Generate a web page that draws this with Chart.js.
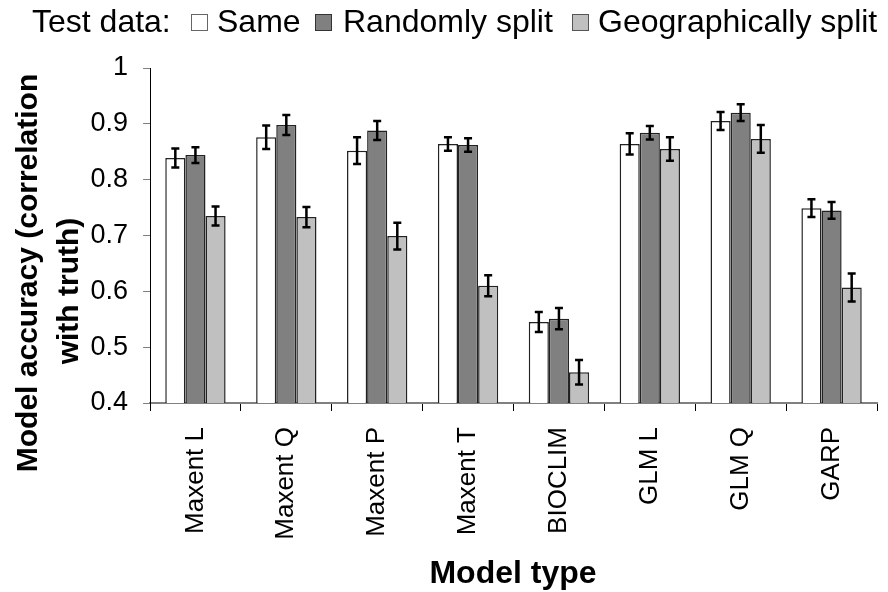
<!DOCTYPE html>
<html>
<head>
<meta charset="utf-8">
<script src="https://cdn.jsdelivr.net/npm/chart.js@4/dist/chart.umd.min.js"></script>
<style>
  html, body { margin: 0; padding: 0; background: #fff; }
  #wrap { width: 888px; height: 592px; position: relative; }
</style>
</head>
<body>
<div id="wrap"><canvas id="c" width="888" height="592"></canvas></div>
<script>
const categories = ["Maxent L", "Maxent Q", "Maxent P", "Maxent T", "BIOCLIM", "GLM L", "GLM Q", "GARP"];
const seriesNames = ["Same", "Randomly split", "Geographically split"];
const sameValues   = [0.839, 0.876, 0.852, 0.864, 0.545, 0.864, 0.905, 0.749];
const randomValues = [0.844, 0.898, 0.888, 0.862, 0.551, 0.884, 0.920, 0.745];
const geoValues    = [0.735, 0.733, 0.699, 0.610, 0.455, 0.855, 0.873, 0.607];
const sameErrors   = [0.017, 0.021, 0.024, 0.012, 0.018, 0.019, 0.016, 0.016];
const randomErrors = [0.014, 0.018, 0.017, 0.012, 0.019, 0.012, 0.015, 0.015];
const geoErrors    = [0.017, 0.018, 0.024, 0.019, 0.022, 0.021, 0.025, 0.025];
const yTicks = [0.4, 0.5, 0.6, 0.7, 0.8, 0.9, 1];
const legendTitle = "Test data:";
const yTitleLines = ["Model accuracy (correlation", "with truth)"];
const xTitle = "Model type";

const FONT = "'Liberation Sans', Arial, sans-serif";
const fills = ["#ffffff", "#808080", "#c0c0c0"];
const errorSets = [sameErrors, randomErrors, geoErrors];

const errorBarPlugin = {
  id: 'errorBars',
  afterDatasetsDraw(chart) {
    const ctx = chart.ctx;
    const y = chart.scales.y;
    ctx.save();
    ctx.strokeStyle = '#000';
    ctx.lineWidth = 2.5;
    chart.data.datasets.forEach((ds, di) => {
      const meta = chart.getDatasetMeta(di);
      const errs = errorSets[di];
      meta.data.forEach((bar, i) => {
        const v = ds.data[i], e = errs[i];
        const yt = y.getPixelForValue(v + e);
        const yb = y.getPixelForValue(v - e);
        const x = bar.x, cw = 4;
        ctx.beginPath();
        ctx.moveTo(x, yt); ctx.lineTo(x, yb);
        ctx.moveTo(x - cw, yt); ctx.lineTo(x + cw, yt);
        ctx.moveTo(x - cw, yb); ctx.lineTo(x + cw, yb);
        ctx.stroke();
      });
    });
    ctx.restore();
  }
};

const textPlugin = {
  id: 'texts',
  afterDraw(chart) {
    const ctx = chart.ctx;
    ctx.save();
    ctx.fillStyle = '#000';
    // Legend
    ctx.font = "32px " + FONT;
    ctx.textBaseline = 'alphabetic';
    ctx.textAlign = 'left';
    ctx.fillText(legendTitle, 32, 32);
    const boxX = [191, 315, 572];
    const textX = [217, 343, 598];
    const borders = ["#666", "#333", "#555"];
    seriesNames.forEach((n, i) => {
      ctx.fillStyle = fills[i];
      ctx.fillRect(boxX[i], 14, 17, 17);
      ctx.strokeStyle = borders[i];
      ctx.lineWidth = 1;
      ctx.strokeRect(boxX[i] + 0.5, 14.5, 16, 16);
      ctx.fillStyle = '#000';
      ctx.fillText(n, textX[i], 32);
    });
    // Y title
    ctx.font = "bold 30px " + FONT;
    ctx.textAlign = 'center';
    ctx.textBaseline = 'alphabetic';
    const ycent = [273, 291];
    const ybase = [37, 78];
    yTitleLines.forEach((t, i) => {
      ctx.save();
      ctx.translate(ybase[i], ycent[i]);
      ctx.rotate(-Math.PI / 2);
      ctx.fillText(t, 0, 0);
      ctx.restore();
    });
    // X title
    ctx.font = "bold 32px " + FONT;
    ctx.textAlign = 'center';
    ctx.fillText(xTitle, 513, 583);
    ctx.restore();
  }
};

new Chart(document.getElementById('c'), {
  type: 'bar',
  data: {
    labels: categories,
    datasets: [
      { label: seriesNames[0], data: sameValues, backgroundColor: fills[0], borderColor: '#222', borderWidth: 1.5 },
      { label: seriesNames[1], data: randomValues, backgroundColor: fills[1], borderColor: '#222', borderWidth: 1.5 },
      { label: seriesNames[2], data: geoValues, backgroundColor: fills[2], borderColor: '#222', borderWidth: 1.5 }
    ]
  },
  options: {
    responsive: false,
    animation: false,
    devicePixelRatio: 1,
    layout: { padding: { top: 68, right: 11, left: 0, bottom: 0 } },
    datasets: { bar: { categoryPercentage: 0.664, barPercentage: 1.0 } },
    plugins: { legend: { display: false }, tooltip: { enabled: false } },
    scales: {
      x: {
        grid: { drawOnChartArea: false, drawTicks: true, tickLength: 8, color: '#000', lineWidth: 1, offset: true },
        border: { color: '#808080', width: 2 },
        ticks: { minRotation: 90, maxRotation: 90, padding: 16, color: '#000', font: { family: FONT, size: 26 } },
        afterFit(scale) { scale.height = 189; }
      },
      y: {
        min: 0.4, max: 1,
        afterBuildTicks(scale) { scale.ticks = yTicks.map(v => ({ value: v })); },
        grid: { drawOnChartArea: false, drawTicks: true, tickLength: 7, color: '#808080', lineWidth: 1 },
        border: { color: '#000', width: 1 },
        ticks: { padding: 15, color: '#000', font: { family: FONT, size: 27 },
                 callback: v => String(+v.toFixed(1)) },
        afterFit(scale) { scale.width = 150; }
      }
    }
  },
  plugins: [errorBarPlugin, textPlugin]
});
</script>
</body>
</html>
